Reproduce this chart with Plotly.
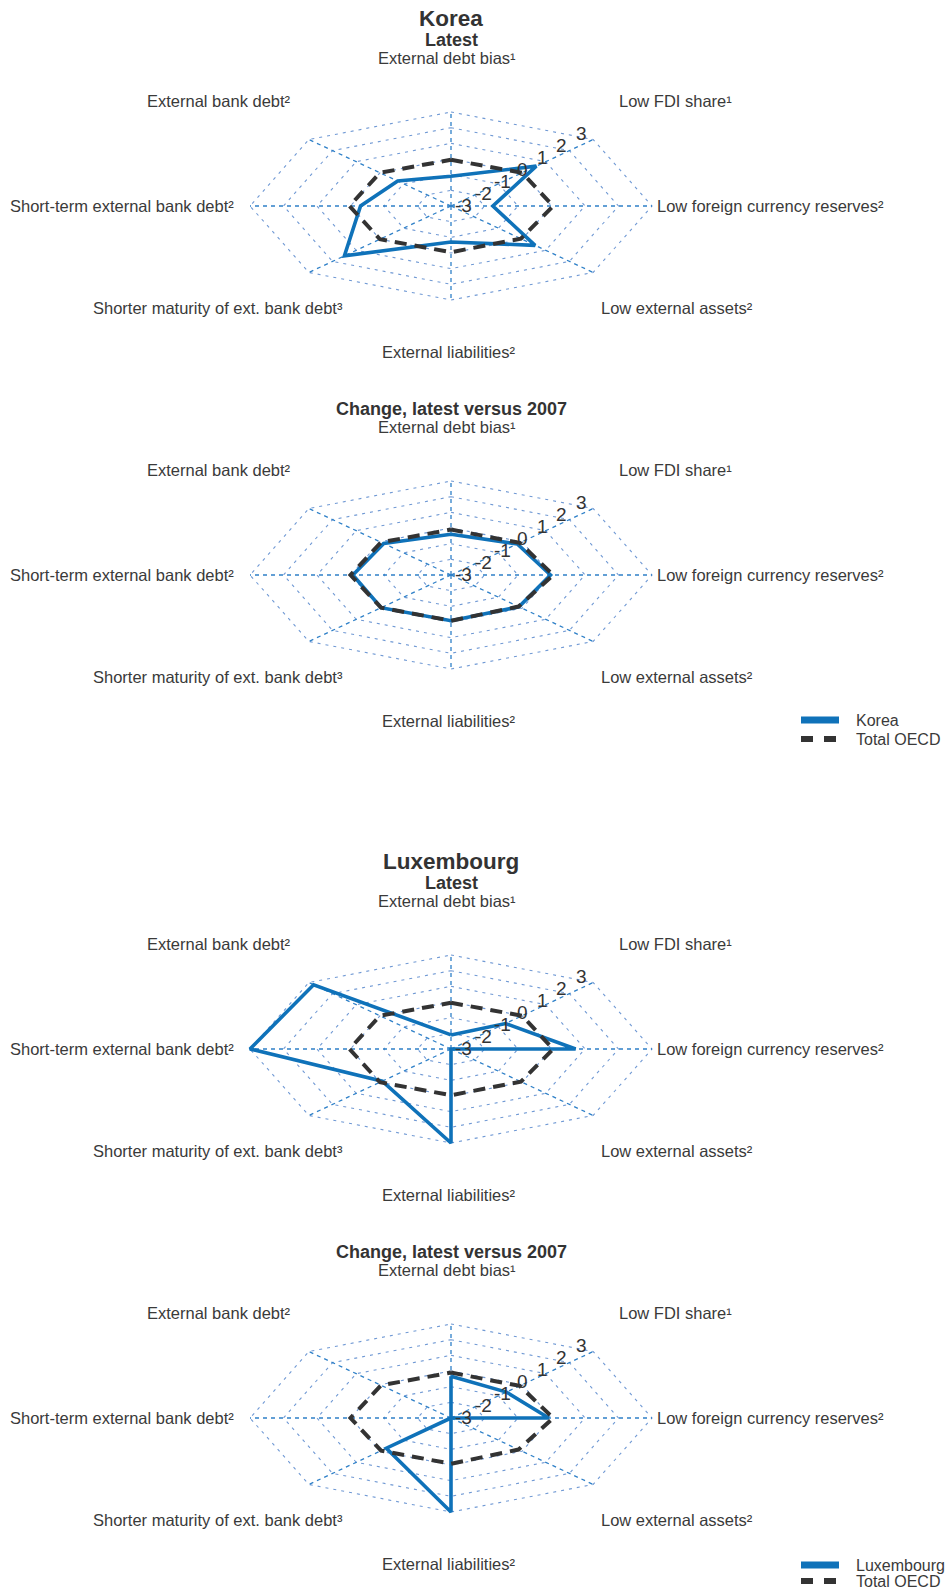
import numpy as np
import plotly.graph_objects as go

# ---------------- data ----------------
axis_labels = [
    "External debt bias¹",
    "Low FDI share¹",
    "Low foreign currency reserves²",
    "Low external assets²",
    "External liabilities²",
    "Shorter maturity of ext. bank debt³",
    "Short-term external bank debt²",
    "External bank debt²",
]
tick_values = [-3, -2, -1, 0, 1, 2, 3]

korea_latest = [-1.1, 0.6, -1.75, 0.55, -0.7, 1.5, -0.3, -0.75]
oecd_latest = [-0.05, 0.0, 0.05, -0.05, -0.05, 0.0, 0.03, 0.0]
korea_change = [-0.4, -0.2, -0.03, -0.13, -0.08, -0.05, -0.07, -0.16]
oecd_change = [-0.1, -0.1, 0.05, -0.15, -0.08, -0.05, 0.0, -0.05]
lux_latest = [-2.1, -0.7, 0.72, -3.0, 3.0, -0.1, 3.0, 2.8]
lux_change = [-0.34, -0.66, -0.08, -3.0, 3.0, -0.27, -3.0, -3.0]

oecd_name = "Total OECD"
title_latest = "Latest"
title_change = "Change, latest versus 2007"

# ---------------- style / layout ----------------
W, H = 990, 1589          # wider than the window so legends are not clipped
CX = 451
RX, RY = 201, 94
VMIN, VMAX = -3, 3
centers = [206, 575, 1049, 1418]
ABOVE, BELOW = 195, 165
BLUE = "#0f72b9"
DARK = "#333333"
TXT = "#3a3a3a"
SPOKE = "#2f80c8"
RING = "#7099d4"
FONT = "Liberation Sans, Arial, sans-serif"

theta = np.deg2rad(np.arange(8) * 45.0)


def proj(vals, closed=True):
    v = np.asarray(vals, dtype=float)
    f = (v - VMIN) / (VMAX - VMIN)
    x = f * RX * np.sin(theta)
    y = f * RY * np.cos(theta)
    xs, ys = list(x), list(y)
    if closed:
        xs.append(xs[0]); ys.append(ys[0])
    return xs, ys


panels = [
    dict(head="Korea", sub=title_latest, country="Korea", vals=korea_latest, oecd=oecd_latest, legends=None),
    dict(head=None, sub=title_change, country="Korea", vals=korea_change, oecd=oecd_change,
         legends=("legend", "legend2")),
    dict(head="Luxembourg", sub=title_latest, country="Luxembourg", vals=lux_latest, oecd=oecd_latest, legends=None),
    dict(head=None, sub=title_change, country="Luxembourg", vals=lux_change, oecd=oecd_change,
         legends=("legend3", "legend4")),
]

label_pos = [
    (-4, 148, "center"),
    (166, 105, "left"),
    (204, 0, "left"),
    (148, -102, "left"),
    (-3, -146, "center"),
    (-106, -102, "right"),
    (-215, 0, "right"),
    (-158, 105, "right"),
]

fig = go.Figure()
annotations = []
layout_axes = {}

for i, p in enumerate(panels):
    n = "" if i == 0 else str(i + 1)
    xa, ya = "x" + n, "y" + n
    cy = centers[i]
    layout_axes["xaxis" + n] = dict(domain=[0, 1], range=[-CX, W - CX], visible=False,
                                   fixedrange=True, anchor=ya)
    layout_axes["yaxis" + n] = dict(domain=[(H - (cy + BELOW)) / H, (H - (cy - ABOVE)) / H],
                                   range=[-BELOW, ABOVE], visible=False, fixedrange=True, anchor=xa)

    # rings
    for tv in tick_values[1:]:
        rx, ry = proj([tv] * 8)
        fig.add_trace(go.Scatter(x=rx, y=ry, mode="lines", xaxis=xa, yaxis=ya,
                                 line=dict(color=RING, width=1.1, dash="3px,5px"),
                                 hoverinfo="skip", showlegend=False))
    # spokes
    ox, oy = proj([VMAX] * 8, closed=False)
    sx, sy = [], []
    for k in range(8):
        sx += [0, ox[k], None]
        sy += [0, oy[k], None]
    fig.add_trace(go.Scatter(x=sx, y=sy, mode="lines", xaxis=xa, yaxis=ya,
                             line=dict(color=SPOKE, width=1.3, dash="4px,4px"),
                             hoverinfo="skip", showlegend=False))

    # data
    cxs, cys = proj(p["vals"])
    fig.add_trace(go.Scatter(x=cxs, y=cys, mode="lines", xaxis=xa, yaxis=ya, name=p["country"],
                             line=dict(color=BLUE, width=3.6), showlegend=False))
    oxs, oys = proj(p["oecd"])
    fig.add_trace(go.Scatter(x=oxs, y=oys, mode="lines", xaxis=xa, yaxis=ya, name=oecd_name,
                             line=dict(color=DARK, width=4, dash="12px,8px"), showlegend=False))

    if p["legends"]:
        la, lb = p["legends"]
        fig.add_trace(go.Scatter(x=[None], y=[None], mode="lines", xaxis=xa, yaxis=ya,
                                 name=p["country"], legend=la,
                                 line=dict(color=BLUE, width=7, dash="38px,200px")))
        fig.add_trace(go.Scatter(x=[None], y=[None], mode="lines", xaxis=xa, yaxis=ya,
                                 name=oecd_name, legend=lb,
                                 line=dict(color=DARK, width=6, dash="12px,11px,12px,200px")))

    # tick labels
    for tv in tick_values:
        k = tv - VMIN
        annotations.append(dict(x=12.3 + 19.7 * k, y=1 + 11.95 * k, xref=xa, yref=ya,
                                text=str(tv), showarrow=False, xanchor="center", yanchor="middle",
                                font=dict(family=FONT, size=19, color=DARK)))
    # axis labels
    for lab, (dx, dy, anc) in zip(axis_labels, label_pos):
        annotations.append(dict(x=dx, y=dy, xref=xa, yref=ya, text=lab, showarrow=False,
                                xanchor=anc, yanchor="middle",
                                font=dict(family=FONT, size=16.5, color=TXT)))
    # titles
    annotations.append(dict(x=0, y=166, xref=xa, yref=ya, text="<b>%s</b>" % p["sub"],
                            showarrow=False, xanchor="center", yanchor="middle",
                            font=dict(family=FONT, size=18, color=DARK)))
    if p["head"]:
        annotations.append(dict(x=0, y=187.5, xref=xa, yref=ya, text="<b>%s</b>" % p["head"],
                                showarrow=False, xanchor="center", yanchor="middle",
                                font=dict(family=FONT, size=22.5, color=DARK)))

legend_common = dict(xanchor="left", yanchor="middle", bgcolor="rgba(0,0,0,0)",
                     font=dict(family=FONT, size=16, color=TXT), itemwidth=50,
                     tracegroupgap=0, itemclick=False, itemdoubleclick=False)
LEG_X = 796
legend_rows = [720, 739, 1565, 1581]
legend_layout = {}
for j, name in enumerate(["legend", "legend2", "legend3", "legend4"]):
    legend_layout[name] = dict(x=LEG_X / W, y=1 - legend_rows[j] / H, **legend_common)

fig.update_layout(
    width=W, height=H,
    margin=dict(l=0, r=0, t=0, b=0, autoexpand=False),
    paper_bgcolor="white", plot_bgcolor="white",
    annotations=annotations,
    **legend_layout,
    **layout_axes,
)

fig.write_html("out.html", config={"displayModeBar": False, "staticPlot": False},
               post_script="document.body.style.margin='0px';")
